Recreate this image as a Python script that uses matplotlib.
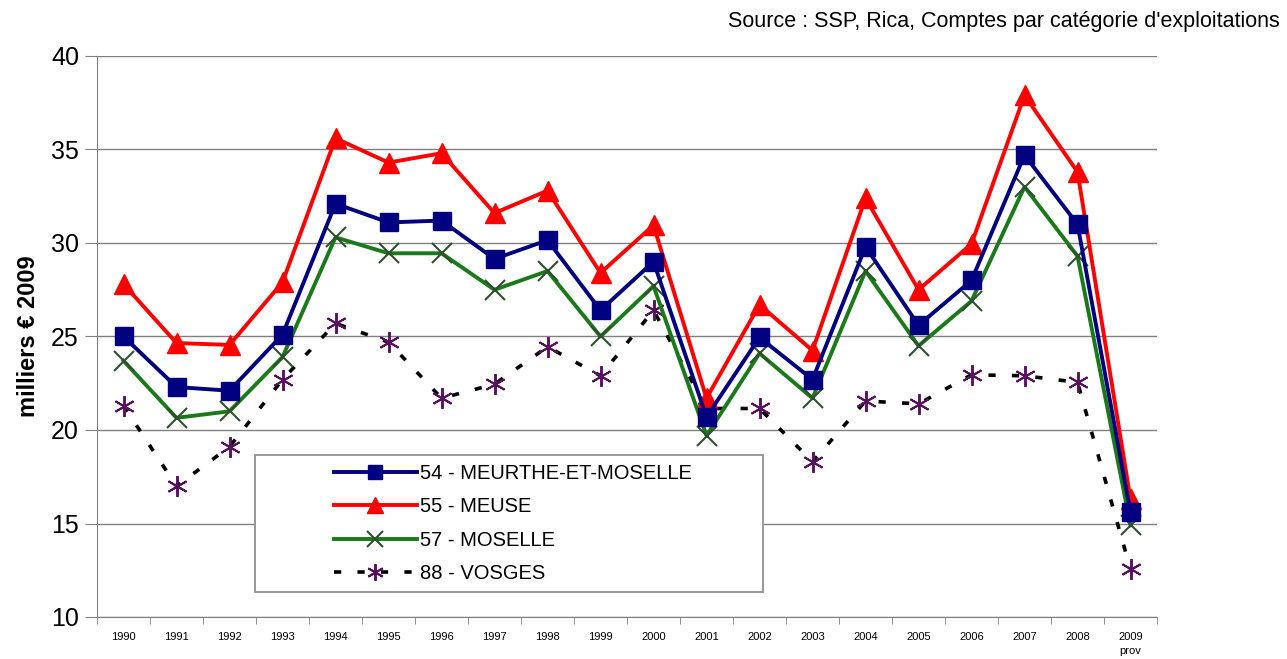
import matplotlib.pyplot as plt
from matplotlib.patches import Rectangle
import numpy as np

plt.rcParams['font.family'] = ['Liberation Sans', 'DejaVu Sans']

years = ["1990", "1991", "1992", "1993", "1994", "1995", "1996", "1997", "1998", "1999",
         "2000", "2001", "2002", "2003", "2004", "2005", "2006", "2007", "2008", "2009\nprov"]

meurthe = [25.0, 22.3, 22.1, 25.1, 32.1, 31.1, 31.2, 29.15, 30.15, 26.4,
           29.0, 20.7, 24.95, 22.7, 29.8, 25.6, 28.0, 34.7, 31.0, 15.6]
meuse = [27.8, 24.65, 24.55, 27.9, 35.6, 34.3, 34.8, 31.6, 32.8, 28.4,
         30.95, 21.7, 26.7, 24.25, 32.4, 27.5, 29.95, 37.9, 33.8, 16.3]
moselle = [23.7, 20.65, 21.0, 23.9, 30.3, 29.45, 29.45, 27.5, 28.5, 25.0,
           27.7, 19.7, 24.1, 21.7, 28.5, 24.5, 26.9, 33.0, 29.3, 14.9]
vosges = [21.3, 17.0, 19.1, 22.7, 25.7, 24.7, 21.7, 22.45, 24.45, 22.9,
          26.4, 21.15, 21.15, 18.3, 21.55, 21.4, 22.95, 22.9, 22.55, 12.55]

labels = ["54 - MEURTHE-ET-MOSELLE", "55 - MEUSE", "57 - MOSELLE", "88 - VOSGES"]

W, H = 1287, 659
fig = plt.figure(figsize=(W / 100, H / 100), dpi=100)
ax = fig.add_axes([97 / W, 1 - 617 / H, (1157 - 97) / W, (617 - 56) / H])

x = np.arange(len(years))

l1, = ax.plot(x, meurthe, color='#000080', lw=2.8, marker='s', ms=12.5,
              mfc='#000080', mec='#000080', zorder=4)
l2, = ax.plot(x, meuse, color='#ff0000', lw=2.8, marker='^', ms=14,
              mfc='#ff0000', mec='#ff0000', zorder=3)
l3, = ax.plot(x, moselle, color='#1a7a1a', lw=2.8, marker='x', ms=14, mew=1.5,
              mec='#2f4f2f', zorder=3)
l4, = ax.plot(x, vosges, color='black', lw=2.6, ls=(0, (2, 4.5)), marker=(6, 2, 0), ms=15,
              mew=1.4, mec='#5a1060', zorder=2)

ax.set_xlim(-0.5, len(years) - 0.5)
ax.set_ylim(10, 40)
ax.set_yticks(range(10, 41, 5))
ax.yaxis.grid(True, color='#808080', lw=1)
ax.set_axisbelow(True)

ax.set_xticks(x)
ax.set_xticklabels(years, fontsize=8, va='top', linespacing=1.5)
ax.set_xticks(np.arange(-0.5, len(years), 1), minor=True)
ax.tick_params(axis='x', which='major', length=0, pad=11)
ax.tick_params(axis='x', which='minor', length=5, color='#808080', direction='out')
ax.tick_params(axis='y', length=9, color='#808080', labelsize=18, pad=4)

for side in ['top', 'right']:
    ax.spines[side].set_visible(False)
for side in ['left', 'bottom']:
    ax.spines[side].set_color('#808080')

ax.set_ylabel("milliers € 2009", fontsize=17, fontweight='bold', labelpad=8)

fig.text(1280 / W, 1 - 21 / H, "Source : SSP, Rica, Comptes par catégorie d'exploitations",
         ha='right', va='center', fontsize=15.5)

# legend box drawn as its own rectangle, legend content centred inside
lx0, ly0, lx1, ly1 = 255 / W, 1 - 592 / H, 763 / W, 1 - 455 / H
box = Rectangle((lx0, ly0), lx1 - lx0, ly1 - ly0, transform=fig.transFigure,
                facecolor='white', edgecolor='#909090', lw=1.3, zorder=5)
fig.add_artist(box)
leg = fig.legend([l1, l2, l3, l4], labels, loc='center',
                 bbox_to_anchor=((lx0 + lx1) / 2 + 0.003, (ly0 + ly1) / 2),
                 bbox_transform=fig.transFigure, fontsize=14.5, handlelength=4.1,
                 frameon=False, labelspacing=0.7, handletextpad=0.15, borderaxespad=0)
leg.set_zorder(6)
for h in leg.get_lines():
    h.set_markersize(h.get_markersize() * 0.8)

fig.savefig("out.png", dpi=100)
